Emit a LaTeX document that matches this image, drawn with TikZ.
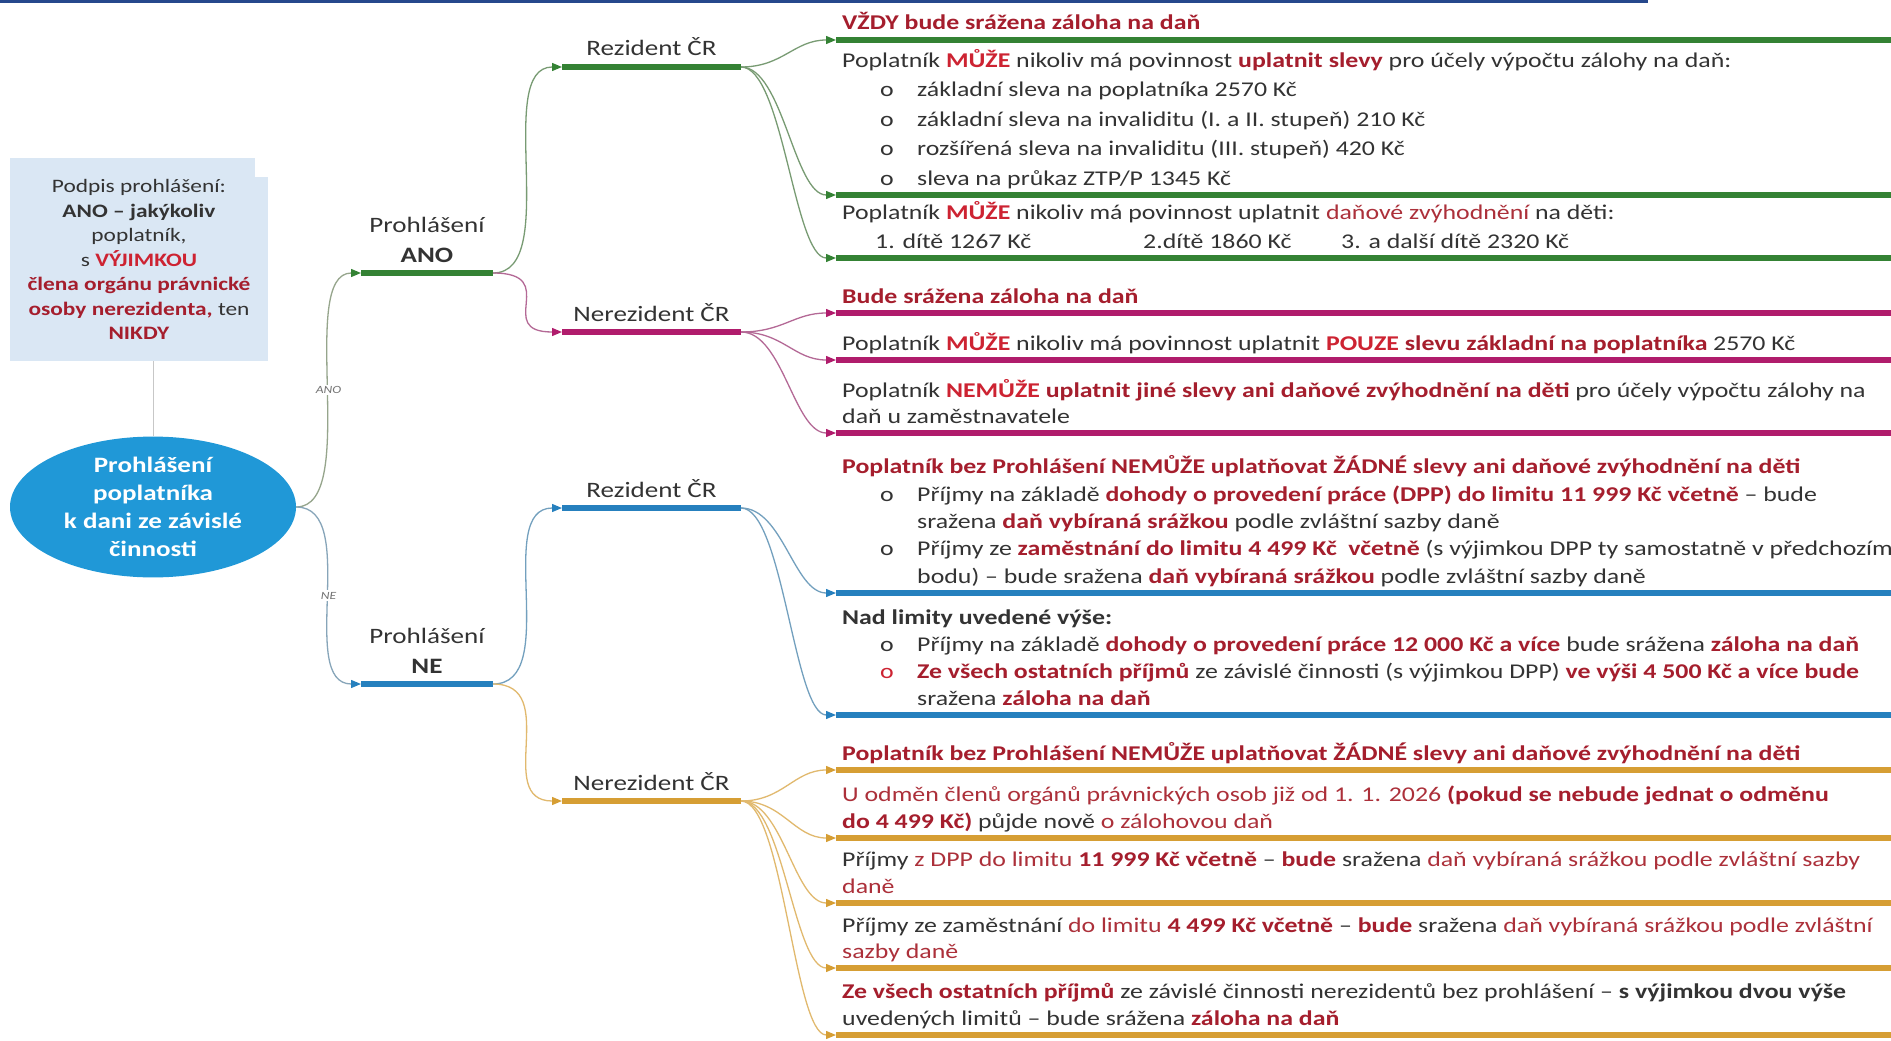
\documentclass[tikz,border=0pt]{standalone}
\usepackage{fontspec}
\setmainfont{Carlito}[FakeStretch=1.23]
\usetikzlibrary{arrows.meta,shapes.geometric}

% palette
\definecolor{txt}{RGB}{51,51,51}
\definecolor{redB}{RGB}{205,35,50}
\definecolor{redD}{RGB}{165,30,45}
\definecolor{redN}{RGB}{172,48,58}
\definecolor{band}{RGB}{38,72,140}
\definecolor{boxfill}{RGB}{218,231,244}
\definecolor{ellfill}{RGB}{32,152,215}
\definecolor{barG}{RGB}{52,130,52}
\definecolor{barM}{RGB}{176,28,108}
\definecolor{barB}{RGB}{38,128,190}
\definecolor{barO}{RGB}{214,158,52}
\definecolor{cAno}{RGB}{150,165,140}
\definecolor{cNe}{RGB}{135,165,185}
\definecolor{cG}{RGB}{120,155,115}
\definecolor{cM}{RGB}{180,105,150}
\definecolor{cB}{RGB}{115,160,190}
\definecolor{cO}{RGB}{225,185,110}

% text helpers
\newcommand\Rb[1]{\textcolor{redB}{\textbf{#1}}}
\newcommand\Db[1]{\textcolor{redD}{\textbf{#1}}}
\newcommand\Rn[1]{\textcolor{redN}{#1}}
\newcommand\bul[2][txt]{\makebox[75pt][l]{\hspace*{38pt}\textcolor{#1}{o}}#2}
\newcommand\cont{\hspace*{75pt}}
\newcommand\leaf[2]{\parbox[b]{1200pt}{\setlength\baselineskip{#1}#2}}

\begin{document}
\begin{tikzpicture}[x=1pt,y=-1pt,
  bar/.style={rectangle, inner sep=0pt, outer sep=0pt, minimum height=5.5pt, fill=#1, anchor=west},
  lvlbar/.style={bar=#1, minimum width=132pt},
  midbar/.style={bar=#1, minimum width=179pt},
  leafbar/.style={bar=#1, minimum width=1055pt},
  lnk/.style 2 args={draw=#1, line width=1.3pt, -{Triangle[length=10pt,width=8pt,color=#2]}},
  elbow/.style={to path={.. controls (\tikztotarget|-\tikztostart) and (\tikztostart|-\tikztotarget) .. (\tikztotarget) \tikztonodes}},
  fan/.style={to path={.. controls +(42,0) and +(-42,0) .. (\tikztotarget) \tikztonodes}},
  lbl/.style={inner sep=0pt, text=txt, font=\fontsize{22}{30}\selectfont, anchor=base},
  leaft/.style={inner sep=0pt, text=txt, font=\fontsize{21}{27}\selectfont, anchor=base west},
  lab/.style={fill=white, inner sep=1.5pt, text=black!55, font=\itshape\fontsize{11}{11}\selectfont}
]
\useasboundingbox (0,0) rectangle (1891,1041);
\fill[white] (0,0) rectangle (1891,1041);
\fill[band] (0,0) rectangle (1648,3.5);

% note box and root ellipse
\node[rectangle, fill=boxfill, minimum width=258pt, minimum height=203pt, inner sep=0pt,
      text=txt, align=center, font=\fontsize{19}{24.5}\selectfont] (note) at (139,259.5)
  {Podpis prohlášení:\\ \textbf{ANO – jakýkoliv}\\ poplatník,\\ s \Rb{VÝJIMKOU}\\
   \Db{člena orgánu právnické}\\ \Db{osoby nerezidenta,} ten\\ \Db{NIKDY}};
\fill[white] ([xshift=-13pt]note.north east) rectangle ([yshift=-19pt]note.north east);

\node[ellipse, fill=ellfill, minimum width=286pt, minimum height=128pt, inner sep=0pt,
      text=white, align=center, font=\bfseries\fontsize{22}{28}\selectfont] (root) at (153,507)
  {Prohlášení\\ poplatníka\\ k dani ze závislé\\ činnosti};
\draw[black!22, line width=1pt] (root.north) -- (root.north |- note.south);

% first level
\node[lvlbar=barG] (ano) at (361,273) {};
\node[lvlbar=barB] (ne) at (361,684) {};
\node[lbl] (anot) at ([yshift=11pt]ano.center) {\parbox[b]{150pt}{\centering Prohlášení\\ \textbf{ANO}}};
\node[lbl] (net) at ([yshift=11pt]ne.center) {\parbox[b]{150pt}{\centering Prohlášení\\ \textbf{NE}}};

% second level
\node[midbar=barG] (rezA) at (562,67) {};
\node[midbar=barM] (nerA) at (562,332) {};
\node[midbar=barB] (rezN) at (562,508) {};
\node[midbar=barO] (nerN) at (562,801) {};
\node[lbl] (rezAt) at ([yshift=11pt]rezA.center) {Rezident ČR};
\node[lbl] (nerAt) at ([yshift=11pt]nerA.center) {Nerezident ČR};
\node[lbl] (rezNt) at ([yshift=11pt]rezN.center) {Rezident ČR};
\node[lbl] (nerNt) at ([yshift=11pt]nerN.center) {Nerezident ČR};

% leaf bars
\node[leafbar=barG] (g1) at (836,40) {};
\node[leafbar=barG] (g2) at (836,195) {};
\node[leafbar=barG] (g3) at (836,258) {};
\node[leafbar=barM] (m1) at (836,313) {};
\node[leafbar=barM] (m2) at (836,360) {};
\node[leafbar=barM] (m3) at (836,433) {};
\node[leafbar=barB] (b1) at (836,593) {};
\node[leafbar=barB] (b2) at (836,715) {};
\node[leafbar=barO] (o1) at (836,770) {};
\node[leafbar=barO] (o2) at (836,838) {};
\node[leafbar=barO] (o3) at (836,903) {};
\node[leafbar=barO] (o4) at (836,968) {};
\node[leafbar=barO] (o5) at (836,1035) {};

% connectors
\draw[lnk={cAno}{barG}] (root.east) to[elbow] node[lab] {ANO} (ano.west);
\draw[lnk={cNe}{barB}] (root.east) to[elbow] node[lab] {NE} (ne.west);
\draw[lnk={cG}{barG}] (ano.east) to[elbow] (rezA.west);
\draw[lnk={cM}{barM}] (ano.east) to[elbow] (nerA.west);
\draw[lnk={cB}{barB}] (ne.east) to[elbow] (rezN.west);
\draw[lnk={cO}{barO}] (ne.east) to[elbow] (nerN.west);
\foreach \t in {g1,g2,g3} \draw[lnk={cG}{barG}] (rezA.east) to[fan] (\t.west);
\foreach \t in {m1,m2,m3} \draw[lnk={cM}{barM}] (nerA.east) to[fan] (\t.west);
\foreach \t in {b1,b2} \draw[lnk={cB}{barB}] (rezN.east) to[fan] (\t.west);
\foreach \t in {o1,o2,o3,o4,o5} \draw[lnk={cO}{barO}] (nerN.east) to[fan] (\t.west);

% leaf texts
\node[leaft] (g1t) at ([xshift=6pt,yshift=10pt]g1.west) {\leaf{27pt}{\Db{VŽDY bude srážena záloha na daň}}};
\node[leaft] (g2t) at ([xshift=6pt,yshift=10pt]g2.west) {\leaf{29.5pt}{Poplatník \Rb{MŮŽE} nikoliv má povinnost \Db{uplatnit slevy} pro účely výpočtu zálohy na daň:\\
  \bul{základní sleva na poplatníka 2570 Kč}\\
  \bul{základní sleva na invaliditu (I. a II. stupeň) 210 Kč}\\
  \bul{rozšířená sleva na invaliditu (III. stupeň) 420 Kč}\\
  \bul{sleva na průkaz ZTP/P 1345 Kč}}};
\node[leaft] (g3t) at ([xshift=6pt,yshift=10pt]g3.west) {\leaf{29pt}{Poplatník \Rb{MŮŽE} nikoliv má povinnost uplatnit \Rn{daňové zvýhodnění} na děti:\\
  \hspace*{33pt}\makebox[268pt][l]{1. dítě 1267 Kč}\makebox[198pt][l]{2.dítě 1860 Kč}3. a další dítě 2320 Kč}};

\node[leaft] (m1t) at ([xshift=6pt,yshift=10pt]m1.west) {\leaf{27pt}{\Db{Bude srážena záloha na daň}}};
\node[leaft] (m2t) at ([xshift=6pt,yshift=10pt]m2.west) {\leaf{27pt}{Poplatník \Rb{MŮŽE} nikoliv má povinnost uplatnit \Rb{POUZE} \Db{slevu základní na poplatníka} 2570 Kč}};
\node[leaft] (m3t) at ([xshift=6pt,yshift=10pt]m3.west) {\leaf{26pt}{Poplatník \Rb{NEMŮŽE} \Db{uplatnit jiné slevy ani daňové zvýhodnění na děti} pro účely výpočtu zálohy na\\
  daň u zaměstnavatele}};

\node[leaft] (b1t) at ([xshift=6pt,yshift=10pt]b1.west) {\leaf{27.3pt}{\Db{Poplatník bez Prohlášení NEMŮŽE uplatňovat ŽÁDNÉ slevy ani daňové zvýhodnění na děti}\\
  \bul{Příjmy na základě \Db{dohody o provedení práce (DPP) do limitu 11 999 Kč včetně} – bude}\\
  \cont sražena \Db{daň vybíraná srážkou} podle zvláštní sazby daně\\
  \bul{Příjmy ze \Db{zaměstnání do limitu 4 499 Kč\ \ včetně} (s výjimkou DPP ty samostatně v předchozím}\\
  \cont bodu) – bude sražena \Db{daň vybíraná srážkou} podle zvláštní sazby daně}};
\node[leaft] (b2t) at ([xshift=6pt,yshift=10pt]b2.west) {\leaf{27pt}{\textbf{Nad limity uvedené výše:}\\
  \bul{Příjmy na základě \Db{dohody o provedení práce 12 000 Kč a více} bude srážena \Db{záloha na daň}}\\
  \bul[redB]{\Db{Ze všech ostatních příjmů} ze závislé činnosti (s výjimkou DPP) \Db{ve výši 4 500 Kč a více bude}}\\
  \cont sražena \Db{záloha na daň}}};

\node[leaft] (o1t) at ([xshift=6pt,yshift=10pt]o1.west) {\leaf{27pt}{\Db{Poplatník bez Prohlášení NEMŮŽE uplatňovat ŽÁDNÉ slevy ani daňové zvýhodnění na děti}}};
\node[leaft] (o2t) at ([xshift=6pt,yshift=10pt]o2.west) {\leaf{27pt}{\Rn{U odměn členů orgánů právnických osob již od 1. 1. 2026} \Db{(pokud se nebude jednat o odměnu}\\
  \Db{do 4 499 Kč)} půjde nově \Rn{o zálohovou daň}}};
\node[leaft] (o3t) at ([xshift=6pt,yshift=10pt]o3.west) {\leaf{27pt}{Příjmy \Rn{z DPP do limitu} \Db{11 999 Kč včetně} – \Db{bude} sražena \Rn{daň vybíraná srážkou podle zvláštní sazby}\\
  \Rn{daně}}};
\node[leaft] (o4t) at ([xshift=6pt,yshift=10pt]o4.west) {\leaf{26pt}{Příjmy ze zaměstnání \Rn{do limitu} \Db{4 499 Kč včetně} – \Db{bude} sražena \Rn{daň vybíraná srážkou podle zvláštní}\\
  \Rn{sazby daně}}};
\node[leaft] (o5t) at ([xshift=6pt,yshift=10pt]o5.west) {\leaf{27pt}{\Db{Ze všech ostatních příjmů} ze závislé činnosti nerezidentů bez prohlášení – \textbf{s výjimkou dvou výše}\\
  uvedených limitů – bude srážena \Db{záloha na daň}}};
\end{tikzpicture}
\end{document}
